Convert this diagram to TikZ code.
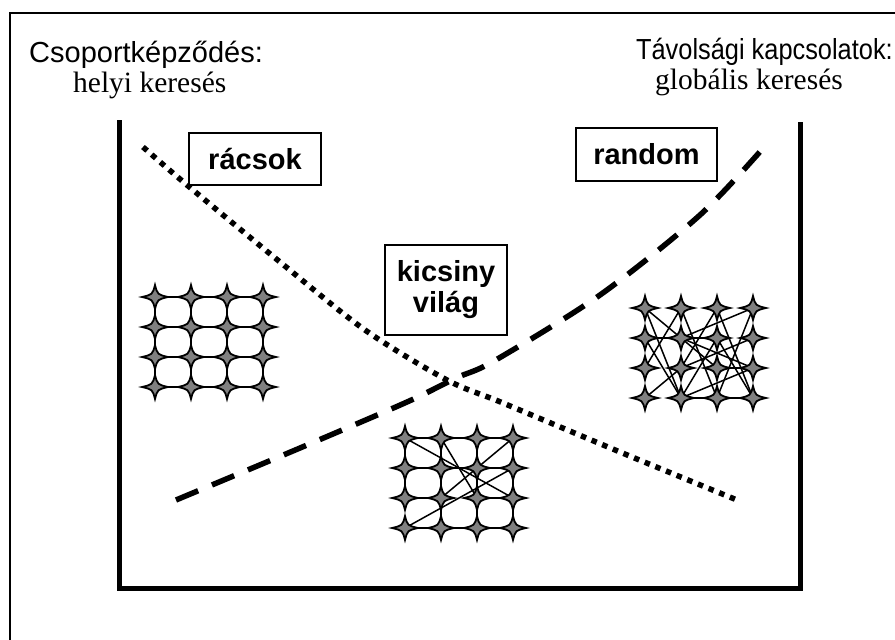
\documentclass[tikz,border=0pt]{standalone}
\usepackage{fontspec}
\setmainfont{Liberation Serif}
\setsansfont{Liberation Sans}
\newfontfamily\condsans[FakeStretch=0.875]{Liberation Sans}
\begin{document}
\begin{tikzpicture}[x=1pt,y=-1pt,
  hdr/.style={font=\sffamily\fontsize{29}{31}\selectfont, inner sep=0},
  hdrr/.style={font=\condsans\fontsize{29}{31}\selectfont, inner sep=0},
  sub/.style={font=\rmfamily\fontsize{29.5}{31}\selectfont, inner sep=0},
  lbl/.style={draw, line width=2, font=\sffamily\bfseries\fontsize{29}{31}\selectfont, align=center, inner sep=0},
  edge/.style={line width=1.5},
  dotcurve/.style={line width=5.5, dash pattern=on 5.5 off 6},
  dashcurve/.style={line width=5.5, dash pattern=on 24 off 15},
  spark/.pic={\filldraw[fill=black!50, line width=1.8] (13,0) .. controls (2.5,2.5) .. (0,12) .. controls (-2.5,2.5) .. (-13,0) .. controls (-2.5,-2.5) .. (0,-12) .. controls (2.5,-2.5) .. cycle;}
]
\useasboundingbox (0,0) rectangle (895,640);
\fill[white] (0,0) rectangle (895,640);
% outer frame
\draw[line width=2] (10,640) -- (10,13) -- (895,13);
% U-shaped axes
\draw[line width=5, line join=miter] (119,120) -- (119,588) -- (800,588) -- (800,122);

% headers
\node[hdr, anchor=base west] (h1) at (29,62) {Csoportképződés:};
\node[sub, anchor=base west] (s1) at (73,92) {helyi keresés};
\node[hdrr, anchor=base east] (h2) at (893,59) {Távolsági kapcsolatok:};
\node[sub, anchor=base west] (s2) at (655,89) {globális keresés};

% curves
\draw[dotcurve] plot[smooth] coordinates {(143,147) (187,185) (280,262) (365,330) (447,380) (503,403) (620,452) (737,500)};
\draw[dashcurve] plot[smooth] coordinates {(176,500) (300,448) (407,402) (456,378) (494,361) (600,295) (700,215) (765,146)};

% labels
\node[lbl, minimum width=132, minimum height=52] (racs) at (255,159) {rácsok};
\node[lbl, minimum width=141, minimum height=53] (rand) at (646.5,154.5) {random};
\node[lbl, minimum width=122, minimum height=90] (kvil) at (446,290) {kicsiny\\világ};

% grid coordinates
\foreach \r in {1,...,4}{
  \foreach \c in {1,...,4}{
    \coordinate (L\r\c) at ({155+36*(\c-1)},{297+30*(\r-1)});
    \coordinate (M\r\c) at ({405+36*(\c-1)},{438+30*(\r-1)});
    \coordinate (R\r\c) at ({645+36*(\c-1)},{308+30*(\r-1)});
  }
}
% left lattice
\foreach \r in {1,...,4}{
  \draw[edge] (L\r1) -- (L\r2) -- (L\r3) -- (L\r4);
  \draw[edge] (L1\r) -- (L2\r) -- (L3\r) -- (L4\r);
}
% middle small world
\foreach \a/\b in {M11/M12,M12/M13,M13/M14,M21/M22,M22/M23,M23/M24,M31/M32,M33/M34,M41/M42,M42/M43,M43/M44,
  M11/M21,M21/M31,M12/M22,M22/M32,M32/M42,M13/M23,M23/M33,M33/M43,M14/M24,M24/M34,M34/M44,
  M11/M34,M12/M33,M14/M32,M24/M41}
  \draw[edge] (\a) -- (\b);
% right random
\foreach \a/\b in {R11/R33,R11/R42,R12/R31,R12/R43,R13/R32,R13/R44,R14/R22,R14/R43,R21/R23,R21/R42,
  R22/R34,R23/R44,R23/R42,R24/R32,R32/R41,R34/R42,R42/R43,R43/R44,R33/R34}
  \draw[edge] (\a) -- (\b);
% stars
\foreach \g in {L,M,R}{
  \foreach \r in {1,...,4}{
    \foreach \c in {1,...,4}{
      \pic at (\g\r\c) {spark};
    }
  }
}
\end{tikzpicture}
\end{document}
